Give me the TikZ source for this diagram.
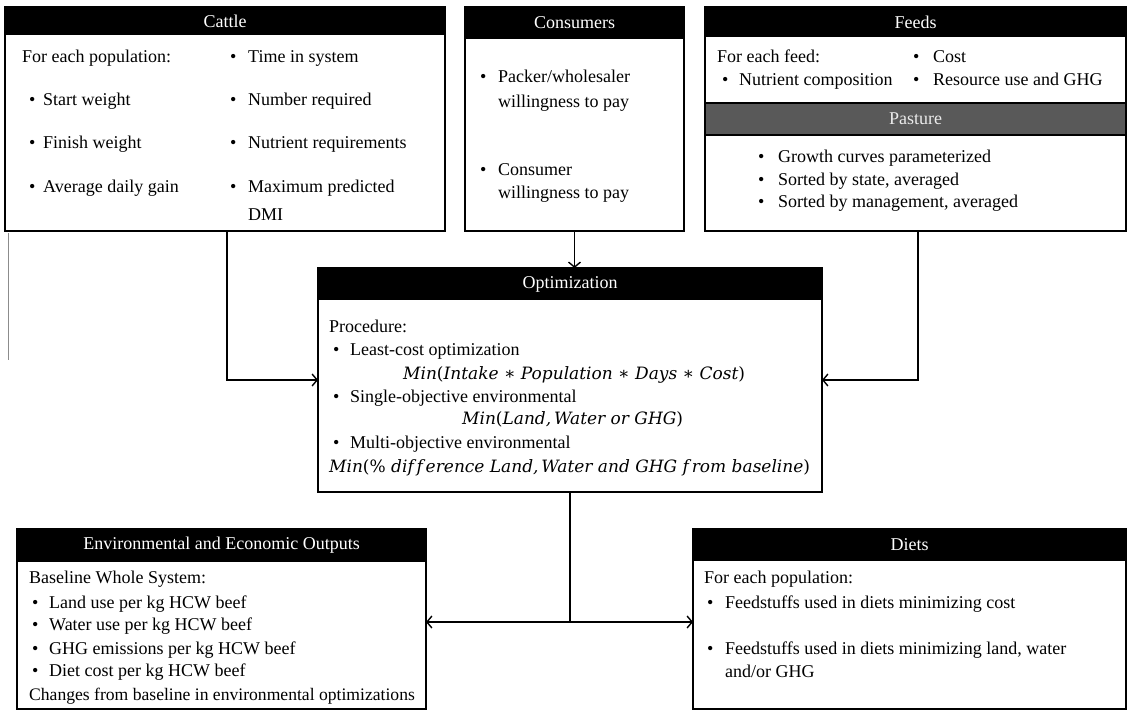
\documentclass[tikz,border=0pt]{standalone}
\usepackage{fontspec}
\setmainfont{Liberation Serif}
\newfontfamily\mfam{DejaVu Serif}
\usetikzlibrary{arrows.meta,calc}
\newcommand{\bfnt}{\fontsize{18}{21}\selectfont}
\newcommand{\hfnt}{\fontsize{18}{21}\selectfont}
\newcommand{\mfnt}{\mfam\itshape\fontsize{17}{20}\selectfont}
\newcommand{\up}[1]{{\upshape #1}}
\begin{document}
\begin{tikzpicture}[x=1pt,y=-1pt,
  box/.style={draw, line width=2.6pt, inner sep=0pt, outer sep=0pt},
  hdr/.style={fill=black, text=white, inner sep=0pt, outer sep=0pt, font=\hfnt},
  phdr/.style={fill=black!65, draw=black, line width=2.6pt, text=black!8, inner sep=0pt, outer sep=0pt, font=\hfnt},
  tx/.style={anchor=base west, inner sep=0pt, font=\bfnt},
  mx/.style={anchor=base west, inner sep=0pt, font=\mfnt},
  conn/.style={line width=1.6pt},
  arr/.style={conn, -{Straight Barb[length=5pt,width=12pt,line width=1.4pt]}}]
\useasboundingbox (0,0) rectangle (1129,712);

% ---------- boxes ----------
\node[box, minimum width=440pt, minimum height=224pt] (cattle) at (225,119) {};
\node[hdr, minimum width=440pt, minimum height=28pt, anchor=north] (cattleh) at (cattle.north) {Cattle};

\node[box, minimum width=219pt, minimum height=224pt] (cons) at (574.5,119) {};
\node[hdr, minimum width=219pt, minimum height=32pt, anchor=north] (consh) at (cons.north) {Consumers};

\node[box, minimum width=421pt, minimum height=224pt] (feeds) at (915.5,119) {};
\node[hdr, minimum width=421pt, minimum height=30pt, anchor=north] (feedsh) at (feeds.north) {Feeds};
\node[phdr, minimum width=421pt, minimum height=32pt] (pasth) at (915.5,119) {Pasture};

\node[box, minimum width=504pt, minimum height=224pt] (opt) at (570,380) {};
\node[hdr, minimum width=504pt, minimum height=32pt, anchor=north] (opth) at (opt.north) {Optimization};

\node[box, minimum width=409pt, minimum height=180pt] (env) at (221.5,619) {};
\node[hdr, minimum width=409pt, minimum height=33pt, anchor=north] (envh) at (env.north) {Environmental\ and Economic\ Outputs};

\node[box, minimum width=433pt, minimum height=180pt] (diets) at (909.5,619) {};
\node[hdr, minimum width=433pt, minimum height=32pt, anchor=north] (dietsh) at (diets.north) {Diets};

% ---------- Cattle text ----------
\node[tx] (c0) at (22,62) {For each population:};
\node[tx] (c1b) at (29,105) {\textbullet};
\node[tx] (c1) at (43,105) {Start weight};
\node[tx] (c2b) at (29,148) {\textbullet};
\node[tx] (c2) at (43,148) {Finish\ weight};
\node[tx] (c3b) at (29,192) {\textbullet};
\node[tx] (c3) at (43,192) {Average\ daily\ gain};
\node[tx] (c4b) at (230,62) {\textbullet};
\node[tx] (c4) at (248,62) {Time in system};
\node[tx] (c5b) at (230,105) {\textbullet};
\node[tx] (c5) at (248,105) {Number required};
\node[tx] (c6b) at (230,148) {\textbullet};
\node[tx] (c6) at (248,148) {Nutrient requirements};
\node[tx] (c7b) at (230,192) {\textbullet};
\node[tx] (c7) at (248,192) {Maximum\ predicted};
\node[tx] (c8) at (248,220) {DMI};

% ---------- Consumers text ----------
\node[tx] (k1b) at (480,82) {\textbullet};
\node[tx] (k1) at (498,82) {Packer/wholesaler};
\node[tx] (k2) at (498,107) {willingness\ to pay};
\node[tx] (k3b) at (480,175) {\textbullet};
\node[tx] (k3) at (498,175) {Consumer};
\node[tx] (k4) at (498,198) {willingness\ to pay};

% ---------- Feeds text ----------
\node[tx] (f0) at (717,62) {For each feed:};
\node[tx] (f1b) at (722,85) {\textbullet};
\node[tx] (f1) at (739,85) {Nutrient composition};
\node[tx] (f2b) at (913,62) {\textbullet};
\node[tx] (f2) at (933,62) {Cost};
\node[tx] (f3b) at (913,85) {\textbullet};
\node[tx] (f3) at (933,85) {Resource use and GHG};

% ---------- Pasture text ----------
\node[tx] (p1b) at (758,162) {\textbullet};
\node[tx] (p1) at (778,162) {Growth curves parameterized};
\node[tx] (p2b) at (758,185) {\textbullet};
\node[tx] (p2) at (778,185) {Sorted by state, averaged};
\node[tx] (p3b) at (758,207) {\textbullet};
\node[tx] (p3) at (778,207) {Sorted by management,\ averaged};

% ---------- Optimization text ----------
\node[tx] (o0) at (329,332) {Procedure:};
\node[tx] (o1b) at (333,355) {\textbullet};
\node[tx] (o1) at (350,355) {Least-cost optimization};
\node[mx] (o2) at (403,379) {Min\up{(}Intake \up{∗} Population \up{∗} Days \up{∗} Cost\up{)}};
\node[tx] (o3b) at (333,402) {\textbullet};
\node[tx] (o3) at (350,402) {Single-objective\ environmental};
\node[mx] (o4) at (462,424) {Min\up{(}Land,\,Water or GHG\up{)}};
\node[tx] (o5b) at (333,448) {\textbullet};
\node[tx] (o5) at (350,448) {Multi-objective\ environmental};
\node[mx] (o6) at (329,472) {Min\up{(\%} dif\,f\,erence Land,\,Water and GHG f\,rom baseline\up{)}};

% ---------- Env text ----------
\node[tx] (e0) at (29,583) {Baseline\ Whole\ System:};
\node[tx] (e1b) at (32,608) {\textbullet};
\node[tx] (e1) at (49,608) {Land use per kg HCW beef};
\node[tx] (e2b) at (32,630) {\textbullet};
\node[tx] (e2) at (49,630) {Water use per kg HCW beef};
\node[tx] (e3b) at (32,654) {\textbullet};
\node[tx] (e3) at (49,654) {GHG emissions\ per kg HCW beef};
\node[tx] (e4b) at (32,676) {\textbullet};
\node[tx] (e4) at (49,676) {Diet\ cost per kg HCW beef};
\node[tx, font=\fontsize{17.6}{21}\selectfont] (e5) at (29,700) {Changes from baseline in environmental optimizations};

% ---------- Diets text ----------
\node[tx] (d0) at (704,583) {For each population:};
\node[tx] (d1b) at (707,608) {\textbullet};
\node[tx] (d1) at (725,608) {Feedstuffs\ used in diets minimizing\ cost};
\node[tx] (d2b) at (707,654) {\textbullet};
\node[tx] (d2) at (725,654) {Feedstuffs\ used in diets minimizing\ land, water};
\node[tx] (d3) at (725,677) {and/or GHG};

% ---------- connectors ----------
\coordinate (cattleout) at (227,231);
\coordinate (pastout) at (918,231);
\coordinate (split) at (570,622);
\draw[arr] (cons.south) -- (cons.south |- opt.north);
\draw[arr] (cattleout) |- (opt.west);
\draw[arr] (pastout) |- (opt.east);
\draw[conn] (opt.south) -- (split);
\draw[arr] (split) -- (split -| env.east);
\draw[arr] (split) -- (split -| diets.west);

% thin grey edge line
\coordinate (g1) at (8,233);
\coordinate (g2) at (8,360);
\draw[black!45, line width=0.8pt] (g1) -- (g2);
\end{tikzpicture}
\end{document}
